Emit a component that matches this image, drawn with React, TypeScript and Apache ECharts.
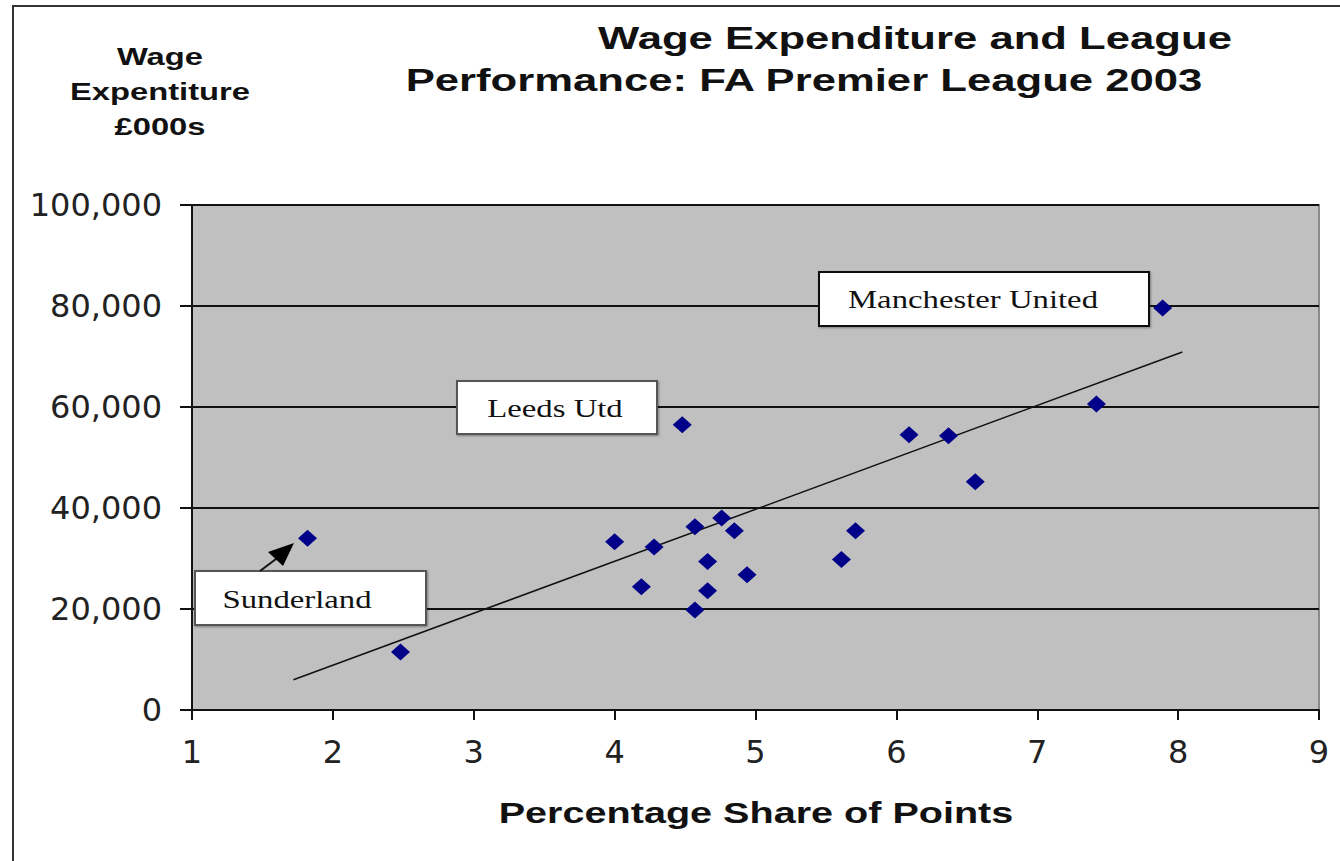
import React, { useEffect, useRef } from "react";
import * as echarts from "echarts";

const titleLines = ["Wage Expenditure and League", "Performance: FA Premier League 2003"];
const yTitleLines = ["Wage", "Expentiture", "£000s"];
const xTitle = "Percentage Share of Points";

const pointShare = [1.82, 2.48, 4.0, 4.19, 4.28, 4.48, 4.57, 4.57, 4.66, 4.66, 4.76, 4.85, 4.94, 5.61, 5.71, 6.09, 6.37, 6.56, 7.42, 7.89];
const pointWage = [34000, 11500, 33300, 24400, 32300, 56500, 36300, 19800, 29400, 23600, 38000, 35500, 26800, 29800, 35500, 54500, 54300, 45200, 60600, 79600];

const trendShare = [1.72, 8.03];
const trendWage = [6000, 70900];

const xRange = [1, 9];
const xStep = 1;
const yRange = [0, 100000];
const yStep = 20000;

const annotations = ["Manchester United", "Leeds Utd", "Sunderland"];

export default function App() {
  const ref = useRef<HTMLDivElement>(null);
  useEffect(() => {
    document.body.style.margin = "0";
    const chart = echarts.init(ref.current!, null, { renderer: "svg" });
    const sx = 1.365;
    const boldFont = "Liberation Sans";
    const serif = "Liberation Serif";
    const box = (x: number, y: number, w: number, h: number, stroke: string) => ({
      type: "rect",
      z: 100,
      shape: { x, y, width: w, height: h },
      style: { fill: "#ffffff", stroke, lineWidth: 2, shadowColor: "rgba(0,0,0,0.35)", shadowBlur: 2, shadowOffsetX: 1, shadowOffsetY: 1 },
    });
    const label = (t: string, x: number, y: number) => ({
      type: "text",
      z: 101,
      x,
      y,
      scaleX: 1.31,
      style: { text: t, fontFamily: serif, fontSize: 25, fill: "#111", textAlign: "center", textVerticalAlign: "middle" },
    });
    const bold = (t: string, x: number, y: number, size: number) => ({
      type: "text",
      z: 101,
      x,
      y,
      scaleX: sx,
      style: { text: t, fontFamily: boldFont, fontWeight: "bold", fontSize: size, fill: "#111", textAlign: "center", textVerticalAlign: "middle" },
    });
    chart.setOption({
      animation: false,
      backgroundColor: "#ffffff",
      grid: {
        left: 192,
        right: 21,
        top: 205,
        bottom: 151,
        show: true,
        backgroundColor: "#c0c0c0",
        borderColor: "#8a8a8a",
        borderWidth: 2,
      },
      xAxis: {
        type: "value",
        min: xRange[0],
        max: xRange[1],
        interval: xStep,
        axisLine: { show: true, lineStyle: { color: "#111", width: 2 } },
        axisTick: { show: true, inside: false, length: 10, lineStyle: { color: "#111", width: 2 } },
        axisLabel: { margin: 26, fontFamily: "DejaVu Sans", fontSize: 32, color: "#222" },
        splitLine: { show: false },
      },
      yAxis: {
        type: "value",
        min: yRange[0],
        max: yRange[1],
        interval: yStep,
        axisLine: { show: true, lineStyle: { color: "#111", width: 2 } },
        axisTick: { show: true, inside: false, length: 12, lineStyle: { color: "#111", width: 2 } },
        axisLabel: {
          margin: 30,
          fontFamily: "DejaVu Sans",
          fontSize: 32,
          color: "#222",
          formatter: (v: number) => v.toLocaleString("en-US"),
        },
        splitLine: { show: true, lineStyle: { color: "#111", width: 2 } },
      },
      series: [
        {
          type: "line",
          data: trendShare.map((x, i) => [x, trendWage[i]]),
          symbol: "none",
          lineStyle: { color: "#111", width: 1.5 },
          z: 3,
        },
        {
          type: "scatter",
          data: pointShare.map((x, i) => [x, pointWage[i]]),
          symbol: "diamond",
          symbolSize: [19, 17],
          itemStyle: { color: "#000088", opacity: 1 },
          z: 4,
        },
      ],
      graphic: [
        {
          type: "rect",
          z: 0,
          shape: { x: 13, y: 6, width: 1400, height: 900 },
          style: { fill: "none", stroke: "#333", lineWidth: 2 },
        },
        bold(titleLines[0], 915, 38, 32),
        bold(titleLines[1], 804, 80, 32),
        bold(yTitleLines[0], 160, 57, 24),
        bold(yTitleLines[1], 160, 92, 24),
        bold(yTitleLines[2], 160, 127, 24),
        bold(xTitle, 756, 813, 29),
        box(819, 272, 330, 54, "#111"),
        label(annotations[0], 973, 299),
        box(457, 381, 200, 53, "#555"),
        label(annotations[1], 555, 408),
        box(195, 571, 231, 54, "#555"),
        label(annotations[2], 297, 599),
        {
          type: "line",
          z: 101,
          shape: { x1: 260, y1: 571, x2: 280, y2: 556 },
          style: { stroke: "#111", lineWidth: 2 },
        },
        {
          type: "polygon",
          z: 101,
          shape: { points: [[294, 543], [268, 552], [283, 566]] },
          style: { fill: "#000" },
        },
      ],
    });
    return () => chart.dispose();
  }, []);
  return <div ref={ref} style={{ width: 1340, height: 861, position: "absolute", left: 0, top: 0 }} />;
}
